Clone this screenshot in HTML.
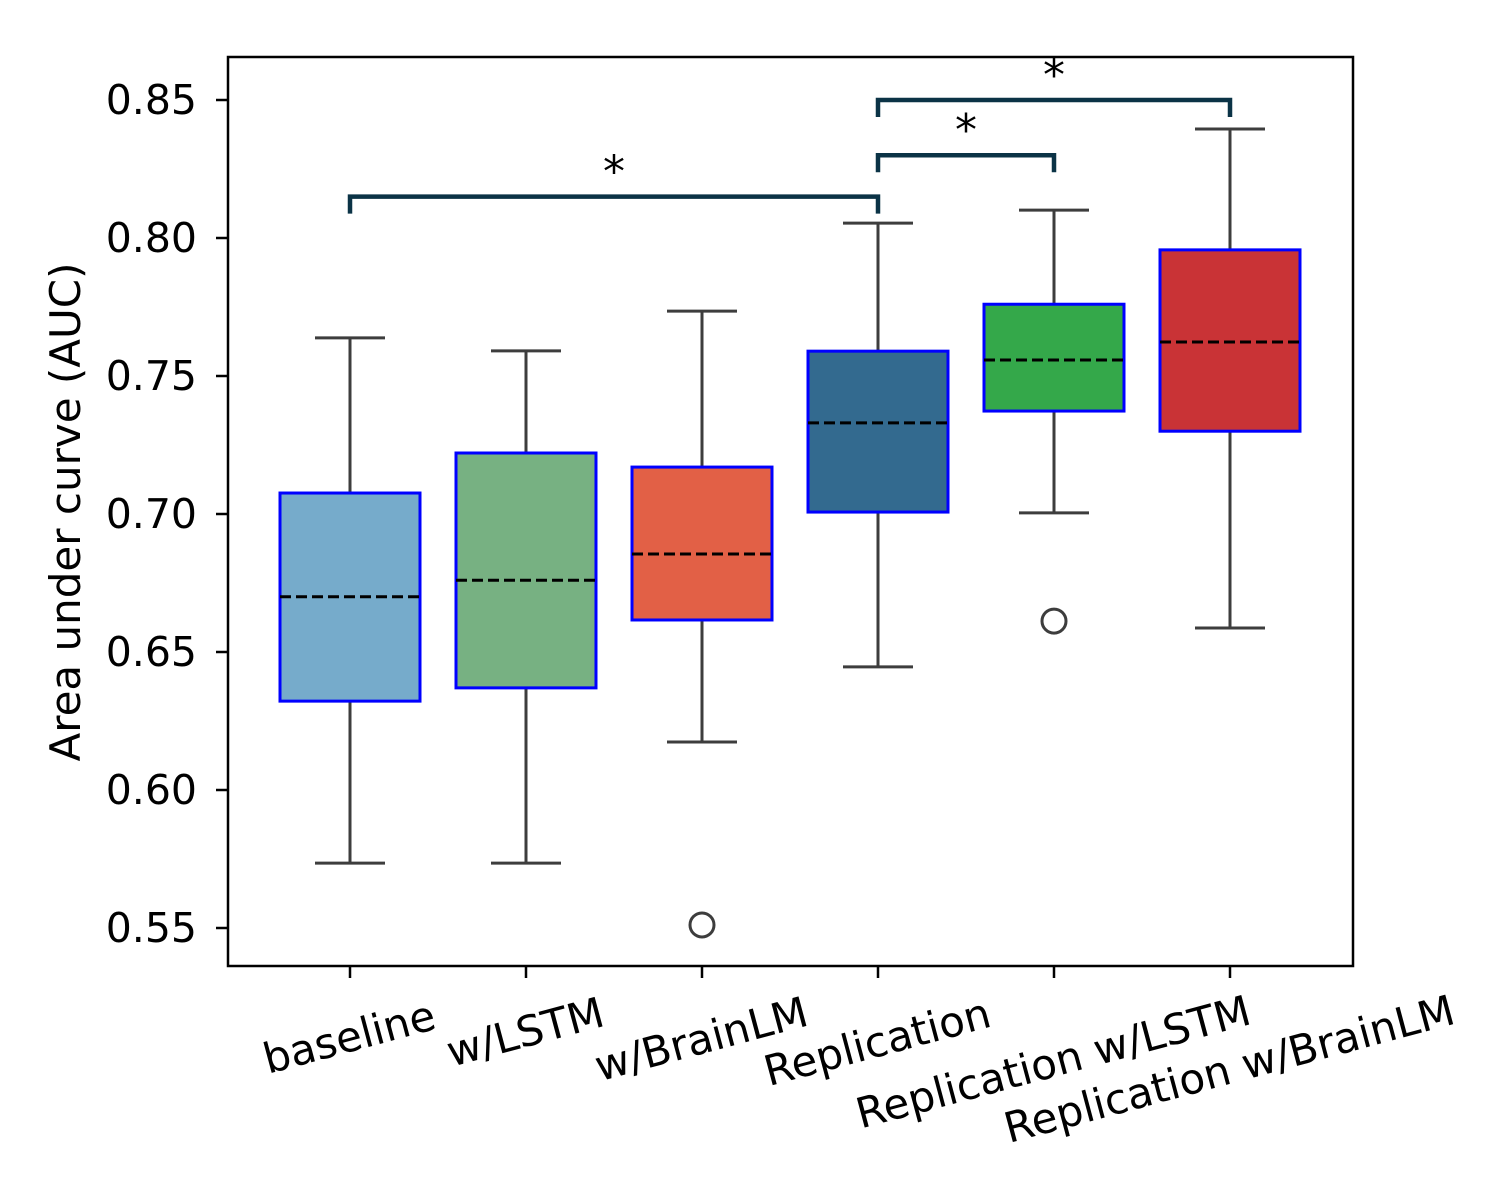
<!DOCTYPE html>
<html><head><meta charset="utf-8"><style>
html,body{margin:0;padding:0;background:#fff;}
svg{display:block;font-family:"DejaVu Sans","Liberation Sans",sans-serif;}
</style></head><body>
<svg id="chart" width="1500" height="1200" viewBox="0 0 1500 1200" xmlns="http://www.w3.org/2000/svg">
<rect width="1500" height="1200" fill="#fff"/>
<g id="plot"></g>
</svg>
<script>
const categories = ["baseline","w/LSTM","w/BrainLM","Replication","Replication w/LSTM","Replication w/BrainLM"];
const whiskerLow = [0.5735,0.5735,0.6174,0.6446,0.7004,0.6587];
const q1Values = [0.6322,0.637,0.6616,0.7007,0.7373,0.730];
const medianValues = [0.670,0.676,0.6855,0.733,0.7558,0.7623];
const q3Values = [0.7076,0.7221,0.717,0.759,0.776,0.7957];
const whiskerHigh = [0.7638,0.7591,0.7735,0.8054,0.8101,0.8395];
const outlierCats = [2,4];
const outlierValues = [0.5511,0.6612];
const boxColors = ["#76abcb","#77b182","#e26046","#336a8f","#34a84a","#c93336"];
const yTicks = [0.55,0.60,0.65,0.70,0.75,0.80,0.85];
const yTickLabels = ["0.55","0.60","0.65","0.70","0.75","0.80","0.85"];
const bracketFrom = [0,3,3];
const bracketTo = [3,4,5];
const bracketLevel = [0.815,0.830,0.850];
const bracketText = ["*","*","*"];

const NS="http://www.w3.org/2000/svg";
const g=document.getElementById('plot');
const L=228,R=1353,T=57,B=966;
function y(v){return 100+(0.85-v)/0.05*138;}
function x(i){return 350+i*176;}
function mk(tag,attrs,parent){const e=document.createElementNS(NS,tag);for(const k in attrs)e.setAttribute(k,attrs[k]);(parent||g).appendChild(e);return e;}

categories.forEach((c,i)=>{
  const cx=x(i),hw=70,col="#3d3d3d";
  const wl=mk('line',{x1:cx,x2:cx,y1:y(q1Values[i]),y2:y(whiskerLow[i]),stroke:col,'stroke-width':3});
  
  
  const wh=mk('line',{x1:cx,x2:cx,y1:y(q3Values[i]),y2:y(whiskerHigh[i]),stroke:col,'stroke-width':3});
  
  
  const cl=mk('line',{x1:cx-35,x2:cx+35,y1:y(whiskerLow[i]),y2:y(whiskerLow[i]),stroke:col,'stroke-width':3});
  
  
  const ch=mk('line',{x1:cx-35,x2:cx+35,y1:y(whiskerHigh[i]),y2:y(whiskerHigh[i]),stroke:col,'stroke-width':3});
  
  
  const b=mk('rect',{x:cx-hw,y:y(q3Values[i]),width:2*hw,height:y(q1Values[i])-y(q3Values[i]),fill:boxColors[i],stroke:'#0000ff','stroke-width':3});
  
  
  const m=mk('line',{x1:cx-hw,x2:cx+hw,y1:y(medianValues[i]),y2:y(medianValues[i]),stroke:'#000','stroke-width':3,'stroke-dasharray':'11,5'});
  
  
});
outlierCats.forEach((ci,k)=>{
  const o=mk('circle',{cx:x(ci),cy:y(outlierValues[k]),r:12,fill:'none',stroke:'#3d3d3d','stroke-width':3});
  
  
});
bracketFrom.forEach((f,k)=>{
  const x1=x(f),x2=x(bracketTo[k]),yy=y(bracketLevel[k]);
  const p=mk('path',{d:`M${x1},${yy+17} L${x1},${yy} L${x2},${yy} L${x2},${yy+17}`,fill:'none',stroke:'#0b3346','stroke-width':4.5});
  
  
  const t=mk('text',{x:(x1+x2)/2,y:yy-10,'text-anchor':'middle','font-size':44,fill:'#000'});
  t.textContent=bracketText[k];
  
  
});
const fr=mk('rect',{x:L,y:T,width:R-L,height:B-T,fill:'none',stroke:'#000','stroke-width':2.5});


yTicks.forEach((v,k)=>{
  mk('line',{x1:L-12,x2:L,y1:y(v),y2:y(v),stroke:'#000','stroke-width':2.5});
  const t=mk('text',{x:L-31,y:y(v)+14,'text-anchor':'end','font-size':41,fill:'#000'});
  t.textContent=yTickLabels[k];
  
  
});
const labelY=[1040,1035,1042,1045,1065,1072];
categories.forEach((c,i)=>{
  mk('line',{x1:x(i),x2:x(i),y1:B,y2:B+12,stroke:'#000','stroke-width':2.5});
  const t=mk('text',{x:x(i),y:labelY[i],'text-anchor':'middle','dominant-baseline':'middle','font-size':42,fill:'#000',transform:`rotate(-15 ${x(i)} ${labelY[i]})`});
  t.textContent=c;
  
  
});
const yl=mk('text',{x:80,y:512,'text-anchor':'middle','font-size':42,fill:'#000',transform:'rotate(-90 80 512)'});
yl.textContent="Area under curve (AUC)";


</script>
</body></html>
